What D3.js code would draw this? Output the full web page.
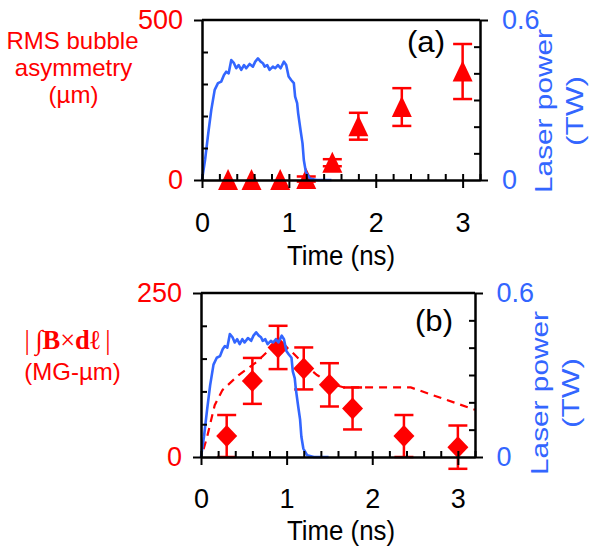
<!DOCTYPE html>
<html>
<head>
<meta charset="utf-8">
<script src="https://cdn.jsdelivr.net/npm/d3@7"></script>
<style>
  html, body { margin: 0; padding: 0; background: #fff; }
  svg { display: block; }
  text { font-family: "Liberation Sans", Arial, sans-serif; }
</style>
</head>
<body>
<script>
// ---------------- data ----------------
const timeTicks = [0, 1, 2, 3];
const timeMinor = [0.2, 0.4, 0.6, 0.8, 1.2, 1.4, 1.6, 1.8, 2.2, 2.4, 2.6, 2.8, 3.2];

// (a) RMS bubble asymmetry (µm)
const asymT   = [0.3, 0.57, 0.9, 1.2, 1.5, 1.8, 2.3, 3.0];
const asymV   = [0, 0, 0, 3, 54, 168, 228, 339];
const asymErr = [0, 0, 0, 8, 11, 42, 59, 86];

// (b) |∫B×dl| (MG-µm)
const bT   = [0.3, 0.6, 0.9, 1.2, 1.5, 1.77, 2.37, 3.0];
const bV   = [32, 116, 167, 135, 110, 74, 32, 15];
const bErr = [32, 35, 33, 32, 33, 32, 32, 33];

// (b) model curve (dashed)
const modelT = [0.03, 0.07, 0.16, 0.25, 0.44, 0.65, 0.81, 0.905, 1.04, 1.2, 1.355, 1.51, 1.67, 2.45, 3.2];
const modelV = [12, 30, 79, 102, 125, 145, 165, 175, 163, 142, 125, 112, 106, 106, 72];

// Laser power (TW)
const laserT = [0, 0.035, 0.072, 0.107, 0.146, 0.184, 0.222, 0.253, 0.279, 0.307, 0.337, 0.368, 0.394, 0.422, 0.452, 0.483, 0.509, 0.548, 0.586, 0.613, 0.644, 0.675, 0.701, 0.721, 0.751, 0.778, 0.816, 0.843, 0.874, 0.905, 0.943, 0.969, 0.997, 1.026, 1.057, 1.072, 1.095, 1.107, 1.134, 1.157, 1.172, 1.195, 1.241, 1.318, 1.49];
const laserP = [0, 0.075, 0.175, 0.263, 0.338, 0.363, 0.369, 0.394, 0.406, 0.400, 0.45, 0.438, 0.419, 0.431, 0.413, 0.431, 0.419, 0.435, 0.425, 0.444, 0.456, 0.444, 0.438, 0.425, 0.431, 0.413, 0.425, 0.419, 0.431, 0.419, 0.444, 0.431, 0.388, 0.375, 0.363, 0.313, 0.288, 0.25, 0.1875, 0.1375, 0.075, 0.031, 0.006, 0, 0];

const aLeftTicks = [0, 500], aLeftMinor = [100, 200, 300, 400];
const bLeftTicks = [0, 250], bLeftMinor = [50, 100, 150, 200];
const powerTicks = [0, 0.6], powerMinor = [0.1, 0.2, 0.3, 0.4, 0.5];

// ---------------- drawing ----------------
const RED = "#ff0000", BLUE = "#3366ff";
const W = 599, H = 552;
const svg = d3.select("body").append("svg").attr("width", W).attr("height", H);

function panel(o) {
  const x = d3.scaleLinear().domain([0, 3.2]).range([o.x0, o.x1]);
  const yL = d3.scaleLinear().domain([0, o.lmax]).range([o.yb, o.yt]);
  const yR = d3.scaleLinear().domain([0, 0.6]).range([o.yb, o.yt]);
  const g = svg.append("g");

  // model dashed line
  if (o.model) {
    g.append("path")
      .datum(o.model.t.map((t, i) => [t, o.model.v[i]]))
      .attr("fill", "none").attr("stroke", RED).attr("stroke-width", 2.2)
      .attr("stroke-dasharray", "8,6")
      .attr("d", d3.line().x(d => x(d[0])).y(d => yL(d[1])));
  }

  // error bars
  const pts = o.t.map((t, i) => ({ t, v: o.v[i], e: o.e[i] }));
  const eb = g.append("g").attr("stroke", RED).attr("stroke-width", 2.5);
  pts.filter(d => d.e > 0).forEach(d => {
    const cx = x(d.t);
    eb.append("line").attr("x1", cx).attr("x2", cx).attr("y1", yL(d.v + d.e)).attr("y2", yL(d.v - d.e));
    eb.append("line").attr("x1", cx - 9.5).attr("x2", cx + 9.5).attr("y1", yL(d.v + d.e)).attr("y2", yL(d.v + d.e));
    eb.append("line").attr("x1", cx - 9.5).attr("x2", cx + 9.5).attr("y1", yL(d.v - d.e)).attr("y2", yL(d.v - d.e));
  });

  // markers
  g.append("g").selectAll("path").data(pts).join("path")
    .attr("fill", RED)
    .attr("transform", d => `translate(${x(d.t)},${yL(d.v)})`)
    .attr("d", o.marker === "tri" ? "M0,-11L10,10L-10,10Z" : "M0,-11L10.5,0L0,11L-10.5,0Z");

  // laser power
  g.append("path")
    .datum(laserT.map((t, i) => [t, laserP[i]]))
    .attr("fill", "none").attr("stroke", BLUE).attr("stroke-width", 2.6)
    .attr("stroke-linejoin", "round")
    .attr("d", d3.line().x(d => x(d[0])).y(d => yR(d[1])));

  // frame
  const ax = svg.append("g");
  ax.append("line").attr("x1", o.x0).attr("x2", o.x1).attr("y1", o.yt).attr("y2", o.yt)
    .attr("stroke", "#000").attr("stroke-width", 2.5);

  function style(sel, color) {
    sel.attr("font-family", null).attr("font-size", null);
    sel.select(".domain").attr("stroke", "#000").attr("stroke-width", 2.5);
    sel.selectAll(".tick line").attr("stroke", "#000").attr("stroke-width", 2);
    sel.selectAll(".tick text").attr("fill", color).style("font-size", "27px");
  }

  // bottom axis
  const gb = ax.append("g").attr("transform", `translate(0,${o.yb})`);
  gb.call(d3.axisBottom(x).tickValues(timeMinor).tickSize(-6).tickSizeOuter(0).tickFormat(""));
  gb.select(".domain").remove();
  style(gb, "#000");
  const gb2 = ax.append("g").attr("transform", `translate(0,${o.yb})`);
  gb2.call(d3.axisBottom(x).tickValues(timeTicks).tickSizeInner(8).tickSizeOuter(0).tickPadding(o.xpad).tickFormat(d3.format("d")));
  style(gb2, "#000");
  gb2.selectAll(".tick line").attr("y1", -6);

  // left axis
  const gl = ax.append("g").attr("transform", `translate(${o.x0},0)`);
  gl.call(d3.axisLeft(yL).tickValues(o.lminor).tickSize(-6).tickFormat(""));
  gl.select(".domain").remove();
  style(gl, "#000");
  const gl2 = ax.append("g").attr("transform", `translate(${o.x0},0)`);
  gl2.call(d3.axisLeft(yL).tickValues(o.lticks).tickSizeInner(8).tickSizeOuter(0).tickPadding(11));
  style(gl2, RED);

  // right axis
  const gr = ax.append("g").attr("transform", `translate(${o.x1},0)`);
  gr.call(d3.axisRight(yR).tickValues(powerMinor).tickSize(-6).tickFormat(""));
  gr.select(".domain").remove();
  style(gr, "#000");
  const gr2 = ax.append("g").attr("transform", `translate(${o.x1},0)`);
  gr2.call(d3.axisRight(yR).tickValues(powerTicks).tickSizeInner(8).tickSizeOuter(0).tickPadding(o.rpad).tickFormat(d => d === 0 ? "0" : d3.format(".1f")(d)));
  style(gr2, BLUE);

  // x title
  svg.append("text").attr("x", 341).attr("y", o.yb + o.titleDy).attr("text-anchor", "middle")
    .attr("font-size", 27).attr("textLength", 108).attr("lengthAdjust", "spacingAndGlyphs")
    .text("Time (ns)");

  // panel label
  svg.append("text").attr("x", o.labX).attr("y", o.labY).attr("font-size", 29)
    .attr("textLength", 38).attr("lengthAdjust", "spacingAndGlyphs").text(o.label);

  // right title
  const rt = svg.append("g").attr("fill", BLUE);
  rt.append("text").attr("transform", `translate(${o.rtX},${o.rtY}) rotate(-90)`)
    .attr("text-anchor", "middle").attr("font-size", 24)
    .attr("textLength", 164).attr("lengthAdjust", "spacingAndGlyphs").text("Laser power");
  rt.append("text").attr("transform", `translate(${o.rtX + 31},${o.rtY}) rotate(-90)`)
    .attr("text-anchor", "middle").attr("font-size", 24)
    .attr("textLength", 70).attr("lengthAdjust", "spacingAndGlyphs").text("(TW)");
}

panel({
  x0: 202, x1: 480, yt: 20, yb: 180, lmax: 500,
  lticks: aLeftTicks, lminor: aLeftMinor,
  t: asymT, v: asymV, e: asymErr, marker: "tri",
  xpad: 25, rpad: 14, titleDy: 85,
  label: "(a)", labX: 407, labY: 52,
  rtX: 552, rtY: 111
});

panel({
  x0: 201, x1: 475, yt: 293, yb: 457, lmax: 250,
  lticks: bLeftTicks, lminor: bLeftMinor,
  t: bT, v: bV, e: bErr, marker: "dia",
  model: { t: modelT, v: modelV },
  xpad: 23.5, rpad: 13.5, titleDy: 83,
  label: "(b)", labX: 415, labY: 331,
  rtX: 548, rtY: 393
});

// left titles
const lt = svg.append("g").attr("fill", RED).attr("text-anchor", "middle").attr("font-size", 24);
lt.append("text").attr("x", 72.5).attr("y", 49).text("RMS bubble");
lt.append("text").attr("x", 73.5).attr("y", 76).text("asymmetry");
lt.append("text").attr("x", 73.5).attr("y", 103).text("(µm)");

const lb = svg.append("g").attr("fill", RED).attr("text-anchor", "middle");
const t1 = lb.append("text").attr("x", 67.5).attr("y", 349)
  .style("font-family", "'Liberation Serif', 'Times New Roman', serif").attr("font-size", 27)
  .attr("textLength", 86).attr("lengthAdjust", "spacingAndGlyphs");
t1.append("tspan").text("|\u2009");
t1.append("tspan").text("∫");
t1.append("tspan").attr("font-weight", "bold").text("B");
t1.append("tspan").text("×");
t1.append("tspan").attr("font-weight", "bold").text("dℓ");
t1.append("tspan").text("\u2009|");
lb.append("text").attr("x", 72.5).attr("y", 380).attr("font-size", 24).text("(MG-µm)");
</script>
</body>
</html>
